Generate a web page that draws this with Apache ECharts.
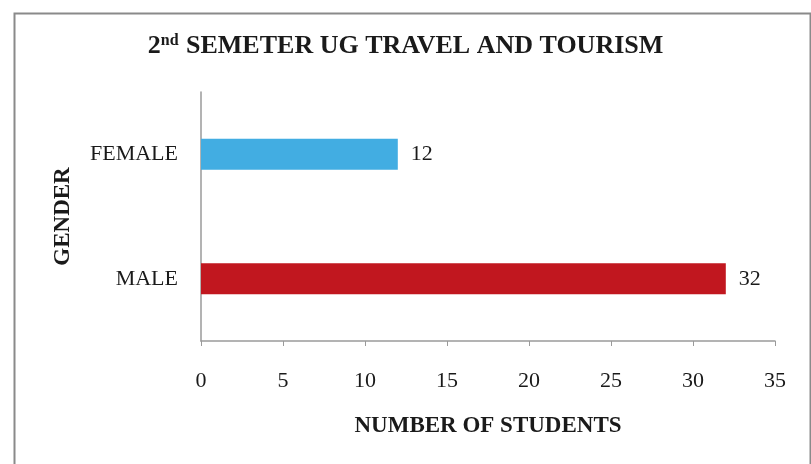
<!DOCTYPE html>
<html>
<head>
<meta charset="utf-8">
<script src="https://cdn.jsdelivr.net/npm/echarts@6/dist/echarts.min.js"></script>
<style>
  html, body { margin: 0; padding: 0; background: #fff; }
  #chart { width: 811px; height: 464px; }
</style>
</head>
<body>
<div id="chart"></div>
<script>
  // data
  let genders = ['MALE', 'FEMALE']
  let students = [32, 12]
  let barColors = ['#c1171f', '#42ade2']
  let xTicks = [0, 5, 10, 15, 20, 25, 30, 35]

  const serif = '"Liberation Serif", "DejaVu Serif", serif'

  const chart = echarts.init(document.getElementById('chart'), null, { renderer: 'canvas' })

  const option = {
    backgroundColor: '#fff',
    textStyle: { fontFamily: serif, color: '#1a1a1a' },
    title: {
      left: 'center',
      top: 28,
      text: '{b|2}{sup|nd}{b| SEMETER UG TRAVEL AND TOURISM}',
      textStyle: {
        rich: {
          b: { fontFamily: serif, fontWeight: 'bold', fontSize: 26, color: '#1a1a1a' },
          sup: { fontFamily: serif, fontWeight: 'bold', fontSize: 16, color: '#1a1a1a', verticalAlign: 'top', padding: [0, 1, 10, 0] }
        }
      }
    },
    graphic: [{
      type: 'rect',
      left: 12,
      top: 11,
      shape: { width: 796, height: 470 },
      style: { fill: 'none', stroke: '#8a8a8a', lineWidth: 2 },
      silent: true
    }],
    grid: {
      left: 201,
      right: 36,
      top: 92,
      bottom: 123
    },
    xAxis: {
      type: 'value',
      min: xTicks[0],
      max: xTicks[xTicks.length - 1],
      interval: xTicks[1] - xTicks[0],
      name: 'NUMBER OF STUDENTS',
      nameLocation: 'middle',
      nameGap: 74,
      nameTextStyle: { fontFamily: serif, fontWeight: 'bold', fontSize: 23, color: '#1a1a1a' },
      axisLine: { show: true, lineStyle: { color: '#9a9a9a', width: 1.5 } },
      axisTick: { show: true, length: 5, lineStyle: { color: '#9a9a9a' } },
      axisLabel: { margin: 29, fontFamily: serif, fontSize: 22, color: '#1a1a1a' },
      splitLine: { show: false }
    },
    yAxis: {
      type: 'category',
      data: genders,
      name: 'GENDER',
      nameLocation: 'middle',
      nameGap: 126,
      nameRotate: 90,
      nameTextStyle: { fontFamily: serif, fontWeight: 'bold', fontSize: 23, color: '#1a1a1a' },
      axisLine: { show: true, lineStyle: { color: '#9a9a9a', width: 1.5 } },
      axisTick: { show: false },
      axisLabel: { margin: 23, fontFamily: serif, fontSize: 22, color: '#1a1a1a' }
    },
    series: [{
      type: 'bar',
      barWidth: 31,
      data: students.map((v, i) => ({ value: v, itemStyle: { color: barColors[i] } })),
      label: {
        show: true,
        position: 'right',
        distance: 13,
        fontFamily: serif,
        fontSize: 22,
        color: '#1a1a1a'
      }
    }]
  }

  chart.setOption(option)
  window.addEventListener('resize', () => {
    chart.resize()
  })
</script>
</body>
</html>
